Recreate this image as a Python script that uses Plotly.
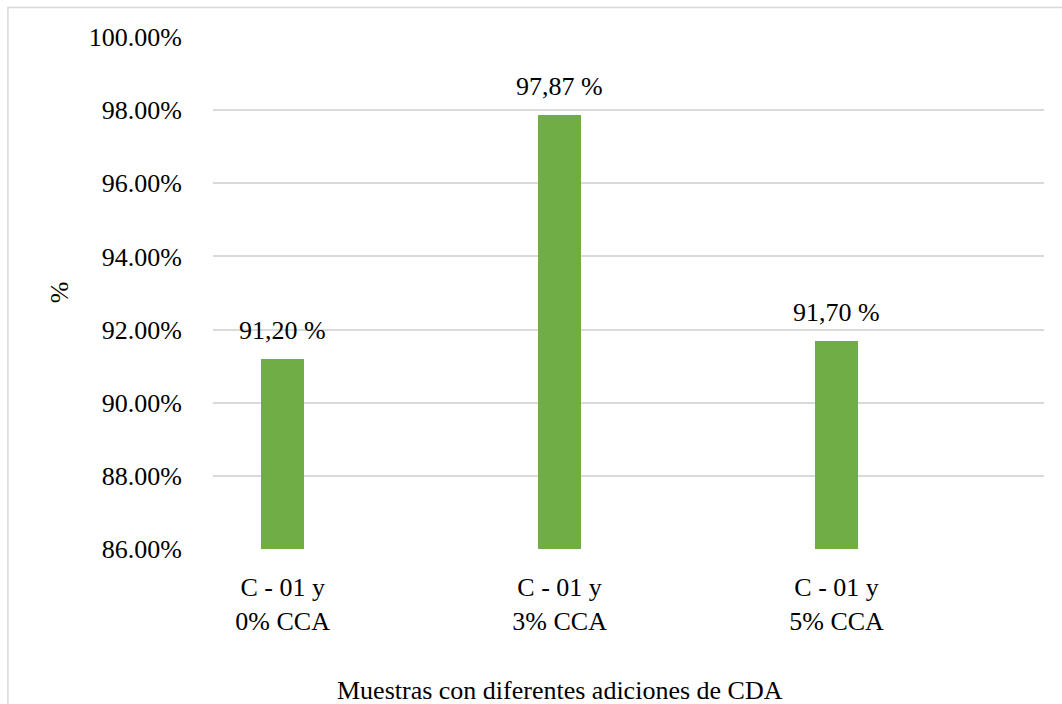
import plotly.graph_objects as go

# Chart data
categories = ["C - 01 y<br>0% CCA", "C - 01 y<br>3% CCA", "C - 01 y<br>5% CCA"]
values = [91.20, 97.87, 91.70]
y_ticks = [86, 88, 90, 92, 94, 96, 98, 100]

positions = list(range(len(categories)))
labels = [f"{v:.2f}".replace(".", ",") + " %" for v in values]
y_tick_text = [f"{t:.2f}%" for t in y_ticks]

FONT = "Liberation Serif"
GRID = "#d9d9d9"

fig = go.Figure()
fig.add_trace(go.Bar(
    x=positions,
    y=values,
    width=0.156,
    marker=dict(color="#70AD47", line=dict(width=0)),
    showlegend=False,
))

# value labels above each bar
value_annotations = [
    dict(
        text=lab, xref="x", yref="y", x=p, y=v,
        xanchor="center", yanchor="middle", yshift=28,
        showarrow=False,
        font=dict(family=FONT, size=26, color="#000000"),
    )
    for p, v, lab in zip(positions, values, labels)
]

fig.update_layout(
    width=1062,
    height=704,
    margin=dict(l=213, r=18, t=37, b=155),
    paper_bgcolor="white",
    plot_bgcolor="white",
    font=dict(family=FONT, size=26, color="#000000"),
    bargap=0,
    xaxis=dict(
        range=[-0.2516, 2.749],
        tickmode="array",
        tickvals=positions,
        ticktext=categories,
        showgrid=False,
        zeroline=False,
        showline=False,
        ticks="outside",
        ticklen=15,
        tickcolor="rgba(0,0,0,0)",
        tickfont=dict(family=FONT, size=26, color="#000000"),
    ),
    yaxis=dict(
        range=[86, 100],
        tickmode="array",
        tickvals=y_ticks,
        ticktext=y_tick_text,
        showgrid=True,
        gridcolor=GRID,
        gridwidth=1.5,
        zeroline=False,
        showline=False,
        ticks="outside",
        ticklen=25,
        tickcolor="rgba(0,0,0,0)",
        tickfont=dict(family=FONT, size=26, color="#000000"),
    ),
    annotations=value_annotations + [
        dict(
            text="Muestras con diferentes adiciones de CDA",
            xref="x", yref="paper", x=1, y=-0.277,
            xanchor="center", yanchor="middle",
            showarrow=False,
            font=dict(family=FONT, size=26, color="#000000"),
        ),
        dict(
            text="%",
            xref="paper", yref="paper", x=-0.1837, y=0.502,
            xanchor="center", yanchor="middle",
            textangle=-90,
            showarrow=False,
            font=dict(family=FONT, size=26, color="#000000"),
        ),
    ],
    shapes=[
        dict(
            type="rect", xref="paper", yref="paper",
            x0=-0.2468, x1=1.1, y0=-0.5, y1=1.0577,
            line=dict(color=GRID, width=1.5),
            fillcolor="rgba(0,0,0,0)",
            layer="below",
        ),
    ],
)

fig.write_html("out.html")
